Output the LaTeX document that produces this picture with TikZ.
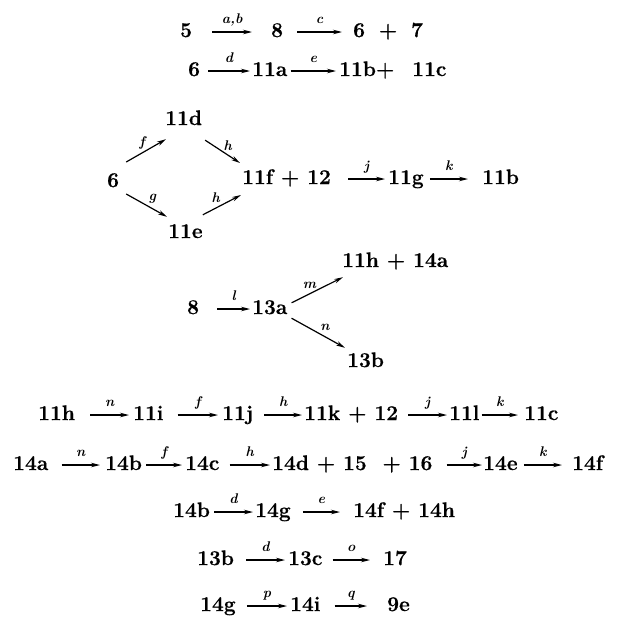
\documentclass[tikz,border=0pt]{standalone}
\usepackage{fontspec}
\newfontfamily\cmpfont{Latin Modern Roman}[BoldFeatures={FakeBold=0.6}]
\usetikzlibrary{arrows.meta}
\tikzset{
  cmp/.style={font=\cmpfont\fontsize{21}{24}\selectfont\bfseries, inner xsep=0pt, inner ysep=0pt,
    text height=14pt, text depth=4pt, anchor=base west},
  arr/.style={line width=1.2pt, -{Stealth[length=9pt,width=4.5pt]}},
  lab/.style={font=\fontsize{14}{16}\selectfont\bfseries\itshape, inner sep=0.5pt},
  labm/.style={lab, midway, anchor=base, yshift=9pt}
}
\begin{document}
\begin{tikzpicture}[x=1pt,y=-1pt]
\path[use as bounding box] (0,0) rectangle (617,616);
% row 1
\node[cmp] (a5) at (180,37) {5};
\node[cmp] (a8) at (271,37) {8};
\node[cmp] (a67) at (353,37) {6\hspace{6pt} + \hspace{6pt}7};
\draw[arr] ([xshift=20pt]a5.east) -- node[labm]{a,b} ([xshift=-19pt]a8.west);
\draw[arr] ([xshift=14pt]a8.east) -- node[labm]{c} ([xshift=-11pt]a67.west);
% row 2
\node[cmp] (b6) at (188,76) {6};
\node[cmp] (b11a) at (252,76) {11a};
\node[cmp] (b11bc) at (339,76) {11b+\hspace{10pt} 11c};
\draw[arr] ([xshift=8pt]b6.east) -- node[labm]{d} ([xshift=-2pt]b11a.west);
\draw[arr] ([xshift=3pt]b11a.east) -- node[labm]{e} ([xshift=-3pt]b11bc.west);
% diamond
\node[cmp] (c6) at (107,187) {6};
\node[cmp] (c11d) at (165,125) {11d};
\node[cmp] (c11e) at (168,238) {11e};
\node[cmp] (c11f) at (242,184) {11f + 12};
\node[cmp] (c11g) at (388,184) {11g};
\node[cmp] (c11b) at (482,184) {11b};
\draw[arr] ([shift={(7,-20)}]c6.east) -- node[lab, above left=0pt]{f} ([shift={(1,10)}]c11d.south west);
\draw[arr] ([shift={(7,12)}]c6.east) -- node[lab, above right=1pt]{g} ([shift={(-1,-7)}]c11e.north west);
\draw[arr] ([shift={(3,11)}]c11d.south east) -- node[lab, above right=0pt]{h} ([shift={(-2,-16)}]c11f.west);
\draw[arr] ([shift={(0,-9)}]c11e.north east) -- node[lab, above left=1pt]{h} ([shift={(-1,16)}]c11f.west);
\draw[arr] ([xshift=17pt]c11f.east) -- node[labm]{j} ([xshift=-3pt]c11g.west);
\draw[arr] ([xshift=6pt]c11g.east) -- node[labm]{k} ([xshift=-14pt]c11b.west);
% row 4
\node[cmp] (d8) at (187,314) {8};
\node[cmp] (d13a) at (252,314) {13a};
\node[cmp] (d11h) at (342,267) {11h + 14a};
\node[cmp] (d13b) at (347,367) {13b};
\draw[arr] ([xshift=18pt]d8.east) -- node[labm]{l} ([xshift=-2pt]d13a.west);
\draw[arr] ([shift={(4,3)}]d13a.north east) -- node[lab, above left=0pt]{m} ([shift={(1,6)}]d11h.south west);
\draw[arr] ([shift={(4,0)}]d13a.south east) -- node[lab, above right=1pt]{n} ([shift={(-2,-5)}]d13b.north west);
% row 5
\node[cmp] (e11h) at (38,420) {11h};
\node[cmp] (e11i) at (133,420) {11i};
\node[cmp] (e11j) at (222,420) {11j};
\node[cmp] (e11k) at (304,420) {11k + 12};
\node[cmp] (e11l) at (449,420) {11l};
\node[cmp] (e11c) at (524,420) {11c};
\draw[arr] ([xshift=15pt]e11h.east) -- node[labm]{n} ([xshift=-4pt]e11i.west);
\draw[arr] ([xshift=14pt]e11i.east) -- node[labm]{f} ([xshift=-4pt]e11j.west);
\draw[arr] ([xshift=11pt]e11j.east) -- node[labm]{h} ([xshift=-2pt]e11k.west);
\draw[arr] ([xshift=10pt]e11k.east) -- node[labm]{j} ([xshift=-2pt]e11l.west);
\draw[arr] ([xshift=2pt]e11l.east) -- node[labm]{k} ([xshift=-6pt]e11c.west);
% row 6
\node[cmp] (f14a) at (13,470) {14a};
\node[cmp] (f14b) at (105,470) {14b};
\node[cmp] (f14c) at (185,470) {14c};
\node[cmp] (f14d) at (272,470) {14d + 15 \ + 16};
\node[cmp] (f14e) at (483,470) {14e};
\node[cmp] (f14f) at (572,470) {14f};
\draw[arr] ([xshift=13pt]f14a.east) -- node[labm]{n} ([xshift=-5pt]f14b.west);
\draw[arr] ([xshift=4pt]f14b.east) -- node[labm]{f} ([xshift=-3pt]f14c.west);
\draw[arr] ([xshift=10pt]f14c.east) -- node[labm]{h} ([xshift=-2pt]f14d.west);
\draw[arr] ([xshift=14pt]f14d.east) -- node[labm]{j} ([xshift=-1pt]f14e.west);
\draw[arr] ([xshift=6pt]f14e.east) -- node[labm]{k} ([xshift=-10pt]f14f.west);
% row 7
\node[cmp] (g14b) at (173,517) {14b};
\node[cmp] (g14g) at (255,517) {14g};
\node[cmp] (g14f) at (353,517) {14f + 14h};
\draw[arr] ([xshift=4pt]g14b.east) -- node[labm]{d} ([xshift=-2pt]g14g.west);
\draw[arr] ([xshift=12pt]g14g.east) -- node[labm]{e} ([xshift=-13pt]g14f.west);
% row 8
\node[cmp] (h13b) at (197,565) {13b};
\node[cmp] (h13c) at (288,565) {13c};
\node[cmp] (h17) at (383,565) {17};
\draw[arr] ([xshift=12pt]h13b.east) -- node[labm]{d} ([xshift=-3pt]h13c.west);
\draw[arr] ([xshift=10pt]h13c.east) -- node[labm]{o} ([xshift=-13pt]h17.west);
% row 9
\node[cmp] (i14g) at (200,611) {14g};
\node[cmp] (i14i) at (290,611) {14i};
\node[cmp] (i9e) at (387,611) {9e};
\draw[arr] ([xshift=11pt]i14g.east) -- node[labm]{p} ([xshift=-3pt]i14i.west);
\draw[arr] ([xshift=14pt]i14i.east) -- node[labm]{q} ([xshift=-20pt]i9e.west);
\end{tikzpicture}
\end{document}
